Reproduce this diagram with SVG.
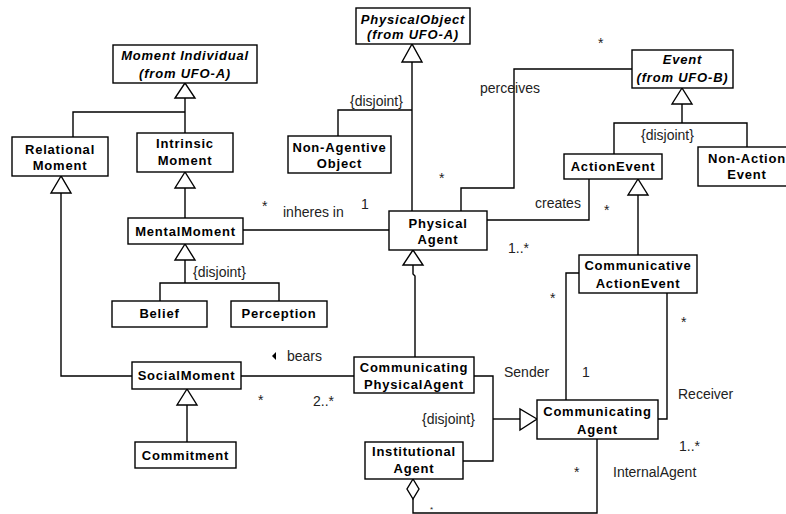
<svg xmlns="http://www.w3.org/2000/svg" width="786" height="514" viewBox="0 0 786 514">
<style>
.box{fill:#fff;stroke:#000;stroke-width:1.4}
.t{font-family:"Liberation Sans",Arial,sans-serif;font-size:13px;font-weight:bold;letter-spacing:0.8px;text-anchor:middle;fill:#000}
.ti{font-family:"Liberation Sans",Arial,sans-serif;font-size:13px;font-weight:bold;font-style:italic;letter-spacing:0.8px;text-anchor:middle;fill:#000}
.l{font-family:"Liberation Sans",Arial,sans-serif;font-size:14px;fill:#222}
.c{fill:none;stroke:#000;stroke-width:1.4}
.tri{fill:#fff;stroke:#000;stroke-width:1.4}
</style>
<rect width="786" height="514" fill="#fff"/>
<g id="connectors">
<polyline class="c" points="185,98 185,133"/>
<polyline class="c" points="73,137 73,112 185,112"/>
<polygon class="tri" points="185,83 175,98 195,98"/>
<polyline class="c" points="61,193 61,376 132,376"/>
<polygon class="tri" points="61,176 51,193 71,193"/>
<polyline class="c" points="185,188 185,218"/>
<polygon class="tri" points="185,172 175,188 195,188"/>
<polyline class="c" points="185,260 185,283"/>
<polyline class="c" points="160,301 160,283 279,283 279,301"/>
<polygon class="tri" points="185,244 175,260 195,260"/>
<polyline class="c" points="243,230 389,230"/>
<polyline class="c" points="412,62 412,211"/>
<polyline class="c" points="338,136 338,110 412,110"/>
<polygon class="tri" points="412,44 402,62 422,62"/>
<polyline class="c" points="461,211 461,188 514,188 514,69 632,69"/>
<polyline class="c" points="487,220 589,220 589,179"/>
<polyline class="c" points="682,104 682,123"/>
<polyline class="c" points="614,154 614,123 747,123 747,147"/>
<polygon class="tri" points="682,88 672,104 692,104"/>
<polyline class="c" points="638,195 638,255"/>
<polygon class="tri" points="638,179 628,195 648,195"/>
<polyline class="c" points="413,265 413,274 415,276 415,357"/>
<polygon class="tri" points="413,250 403,265 423,265"/>
<polyline class="c" points="241,376 354,376"/>
<polyline class="c" points="187,405 187,442"/>
<polygon class="tri" points="187,389 177,405 197,405"/>
<polyline class="c" points="474,376 493,376 493,461 463,461"/>
<polyline class="c" points="493,419 520,419"/>
<polygon class="tri" points="537,419 520,409 520,430"/>
<polyline class="c" points="566,400 566,273 579,273"/>
<polyline class="c" points="667,293 667,419 658,419"/>
<polyline class="c" points="413,499 413,513 597,513 597,439"/>
<polygon class="tri" points="413,479 419,489 413,499 407,489"/>
</g>
<g id="labels">
<text class="l" x="350" y="106">{disjoint}</text>
<text class="l" x="193" y="277">{disjoint}</text>
<text class="l" x="641" y="140">{disjoint}</text>
<text class="l" x="422" y="424">{disjoint}</text>
<text class="l" x="262" y="211">*</text>
<text class="l" x="283" y="217">inheres in</text>
<text class="l" x="361" y="209">1</text>
<text class="l" x="480" y="93">perceives</text>
<text class="l" x="598" y="48">*</text>
<text class="l" x="439" y="183">*</text>
<text class="l" x="535" y="208">creates</text>
<text class="l" x="604" y="215">*</text>
<text class="l" x="508" y="253">1..*</text>
<polygon points="276,352 276,360 272,356" fill="#000"/>
<text class="l" x="287" y="361">bears</text>
<text class="l" x="258" y="405">*</text>
<text class="l" x="313" y="406">2..*</text>
<text class="l" x="504" y="377">Sender</text>
<text class="l" x="582" y="377">1</text>
<text class="l" x="550" y="303">*</text>
<text class="l" x="681" y="327">*</text>
<text class="l" x="678" y="399">Receiver</text>
<text class="l" x="679" y="451">1..*</text>
<text class="l" x="574" y="477">*</text>
<text class="l" x="613" y="477">InternalAgent</text>
<text class="l" x="430" y="512" style="font-size:8px">*</text>
</g>
<g id="MomentIndividual"><rect class="box" x="113" y="45" width="144" height="38"/><text class="ti" x="185" y="60">Moment Individual</text><text class="ti" x="185" y="78">(from UFO-A)</text></g>
<g id="RelationalMoment"><rect class="box" x="12" y="137" width="96" height="39"/><text class="t" x="60" y="154">Relational</text><text class="t" x="60" y="170">Moment</text></g>
<g id="IntrinsicMoment"><rect class="box" x="137" y="133" width="96" height="39"/><text class="t" x="185" y="148">Intrinsic</text><text class="t" x="185" y="165">Moment</text></g>
<g id="MentalMoment"><rect class="box" x="128" y="218" width="115" height="26"/><text class="t" x="185.5" y="236">MentalMoment</text></g>
<g id="Belief"><rect class="box" x="112" y="301" width="95" height="26"/><text class="t" x="159.5" y="318">Belief</text></g>
<g id="Perception"><rect class="box" x="231" y="301" width="96" height="26"/><text class="t" x="279" y="318">Perception</text></g>
<g id="SocialMoment"><rect class="box" x="132" y="362" width="109" height="27"/><text class="t" x="186.5" y="380">SocialMoment</text></g>
<g id="Commitment"><rect class="box" x="135" y="442" width="101" height="26"/><text class="t" x="185.5" y="460">Commitment</text></g>
<g id="PhysicalObject"><rect class="box" x="356" y="8" width="114" height="36"/><text class="ti" x="413" y="24">PhysicalObject</text><text class="ti" x="413" y="39">(from UFO-A)</text></g>
<g id="NonAgentiveObject"><rect class="box" x="288" y="136" width="103" height="37"/><text class="t" x="339.5" y="152">Non-Agentive</text><text class="t" x="339.5" y="168">Object</text></g>
<g id="PhysicalAgent"><rect class="box" x="389" y="211" width="98" height="39"/><text class="t" x="438" y="228">Physical</text><text class="t" x="438" y="244">Agent</text></g>
<g id="Event"><rect class="box" x="632" y="50" width="101" height="38"/><text class="ti" x="682.5" y="64">Event</text><text class="ti" x="682.5" y="82">(from UFO-B)</text></g>
<g id="ActionEvent"><rect class="box" x="564" y="154" width="98" height="25"/><text class="t" x="613" y="171">ActionEvent</text></g>
<g id="NonActionEvent"><rect class="box" x="698" y="147" width="98" height="39"/><text class="t" x="747" y="163">Non-Action</text><text class="t" x="747" y="179">Event</text></g>
<g id="CommunicativeActionEvent"><rect class="box" x="579" y="255" width="118" height="38"/><text class="t" x="638" y="270">Communicative</text><text class="t" x="638" y="288">ActionEvent</text></g>
<g id="CommunicatingPhysicalAgent"><rect class="box" x="354" y="357" width="120" height="36"/><text class="t" x="414" y="372">Communicating</text><text class="t" x="414" y="389">PhysicalAgent</text></g>
<g id="InstitutionalAgent"><rect class="box" x="365" y="442" width="98" height="37"/><text class="t" x="414" y="456">Institutional</text><text class="t" x="414" y="473">Agent</text></g>
<g id="CommunicatingAgent"><rect class="box" x="537" y="400" width="121" height="39"/><text class="t" x="597.5" y="416">Communicating</text><text class="t" x="597.5" y="434">Agent</text></g>
</svg>
